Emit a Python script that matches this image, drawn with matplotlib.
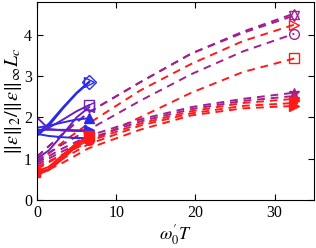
import matplotlib
matplotlib.use("Agg")
import matplotlib.pyplot as plt

plt.rcParams['font.family'] = ['Liberation Serif', 'DejaVu Serif']
plt.rcParams['mathtext.fontset'] = 'stix'

BLUE = '#2a2ae8'
VIOLET = '#6a1fc0'
PURPLE = '#a0208e'
RED = '#ff1a1a'

# Solid series: x from 0 to 6.6
x_short = [0, 1.5, 3.3, 5.0, 6.6]
short_series = [
    # (values, color, marker, filled)
    ([1.60, 1.85, 2.25, 2.60, 2.87], BLUE, 'D', False),
    ([1.55, 1.80, 2.22, 2.58, 2.85], BLUE, '>', False),
    ([1.65, 1.75, 1.95, 2.15, 2.30], VIOLET, 's', False),
    ([1.00, 1.20, 1.60, 2.00, 2.25], VIOLET, '<', False),
    ([1.75, 1.80, 1.88, 1.95, 1.98], BLUE, '^', True),
    ([1.70, 1.70, 1.70, 1.69, 1.69], BLUE, '>', True),
    ([2.00, 1.72, 1.68, 1.67, 1.67], VIOLET, None, True),
    ([1.60, 1.55, 1.52, 1.50, 1.50], BLUE, 'v', True),
    ([0.65, 0.75, 1.05, 1.35, 1.50], RED, '*', True),
    ([0.70, 0.80, 1.10, 1.38, 1.55], RED, 's', True),
    ([0.62, 0.72, 1.00, 1.30, 1.45], RED, 'o', True),
]

# Dashed series: x from 0 to 32.5
x_long = [0, 3.25, 6.5, 13, 19.5, 26, 32.5]
long_series = [
    ([1.05, 1.60, 2.12, 2.85, 3.55, 4.05, 4.47], PURPLE, 'v', False),
    ([1.05, 1.60, 2.12, 2.85, 3.55, 4.08, 4.52], PURPLE, '^', False),
    ([0.90, 1.40, 1.85, 2.65, 3.30, 3.85, 4.25], RED, '>', False),
    ([0.95, 1.35, 1.70, 2.40, 3.05, 3.60, 4.03], PURPLE, 'o', False),
    ([0.80, 1.10, 1.40, 2.00, 2.60, 3.10, 3.43], RED, 's', False),
    ([0.90, 1.25, 1.55, 1.95, 2.25, 2.45, 2.60], PURPLE, '*', True),
    ([0.85, 1.18, 1.48, 1.90, 2.20, 2.40, 2.52], PURPLE, '^', True),
    ([0.75, 1.10, 1.42, 1.85, 2.15, 2.35, 2.45], RED, '*', True),
    ([0.65, 1.00, 1.35, 1.80, 2.10, 2.28, 2.35], RED, 'v', True),
    ([0.60, 0.90, 1.25, 1.70, 2.05, 2.22, 2.28], RED, '>', True),
]

fig = plt.figure(figsize=(3.16, 2.48), dpi=100)
ax = fig.add_axes([0.117, 0.194, 0.877, 0.798])

for vals, c, m, filled in long_series:
    ax.plot(x_long, vals, '--', color=c, lw=1.4, dashes=(4, 3))
    if m:
        ax.plot(x_long[-1], vals[-1], m, color=c, ms=7,
                mfc=c if filled else 'none', mec=c, mew=1.0)

for vals, c, m, filled in short_series:
    ax.plot(x_short, vals, '-', color=c, lw=1.4)
    if m:
        ax.plot(x_short[-1], vals[-1], m, color=c, ms=7,
                mfc=c if filled else 'none', mec=c, mew=1.0)
    if c == RED:
        ax.plot(x_short[0], vals[0], 's', color=c, ms=4)

ax.set_xlim(0, 35)
ax.set_ylim(0, 4.8)
ax.set_xticks([0, 10, 20, 30])
ax.set_yticks([0, 1, 2, 3, 4])
ax.tick_params(direction='in', top=True, right=True, labelsize=11.5, length=4)
ax.set_xlabel(r"$\omega^{\prime}_{0}T$", fontsize=13, labelpad=1)
ax.set_ylabel(r"$\|\epsilon\|_2/\|\epsilon\|_\infty L_c$", fontsize=14.5, labelpad=0)

fig.savefig('out.png', dpi=100)
